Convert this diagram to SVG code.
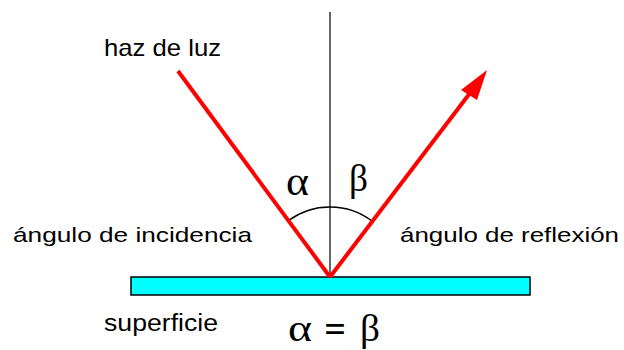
<svg xmlns="http://www.w3.org/2000/svg" width="624" height="350" viewBox="0 0 624 350">
<style>
.lbl{font-family:"Liberation Sans",Arial,sans-serif;fill:#000}
.greek{font-family:"Liberation Serif","Times New Roman",serif;fill:#000}
.ray{stroke:#ff0000;stroke-width:4;fill:none}
</style>
<rect width="624" height="350" fill="#fff"/>
<g id="surface"><rect x="131" y="277" width="399" height="18" fill="#00ffff" stroke="#000" stroke-width="1.5"/></g>
<g id="connectors">
<line x1="330" y1="12" x2="330" y2="277" stroke="#000" stroke-width="1.2"/>
<path d="M288.4,220.7 A70,70 0 0 1 372.3,221.3" fill="none" stroke="#000" stroke-width="1.5"/>
<line class="ray" x1="178" y1="71" x2="330" y2="277"/>
<line class="ray" x1="330" y1="277" x2="470" y2="93"/>
<polygon points="487,70 461,90 477,100" fill="#ff0000"/>
</g>
<g id="labels">
<text class="lbl" x="104" y="56" font-size="24" textLength="117" lengthAdjust="spacingAndGlyphs">haz de luz</text>
<text class="lbl" x="13" y="242" font-size="21" textLength="239" lengthAdjust="spacingAndGlyphs">ángulo de incidencia</text>
<text class="lbl" x="400" y="242" font-size="21" textLength="219" lengthAdjust="spacingAndGlyphs">ángulo de reflexión</text>
<text class="lbl" x="104" y="331" font-size="23" textLength="114" lengthAdjust="spacingAndGlyphs">superficie</text>
<text class="greek" x="286" y="195" font-size="40" textLength="23" lengthAdjust="spacingAndGlyphs">α</text>
<text class="greek" x="349" y="191" font-size="38" textLength="19" lengthAdjust="spacingAndGlyphs">β</text>
<text class="greek" x="288" y="341" font-size="38" textLength="24" lengthAdjust="spacingAndGlyphs">α</text>
<text class="greek" x="335" y="342" font-size="38" text-anchor="middle" font-weight="bold">=</text>
<text class="greek" x="360" y="341" font-size="38" textLength="20" lengthAdjust="spacingAndGlyphs">β</text>
</g>
</svg>
